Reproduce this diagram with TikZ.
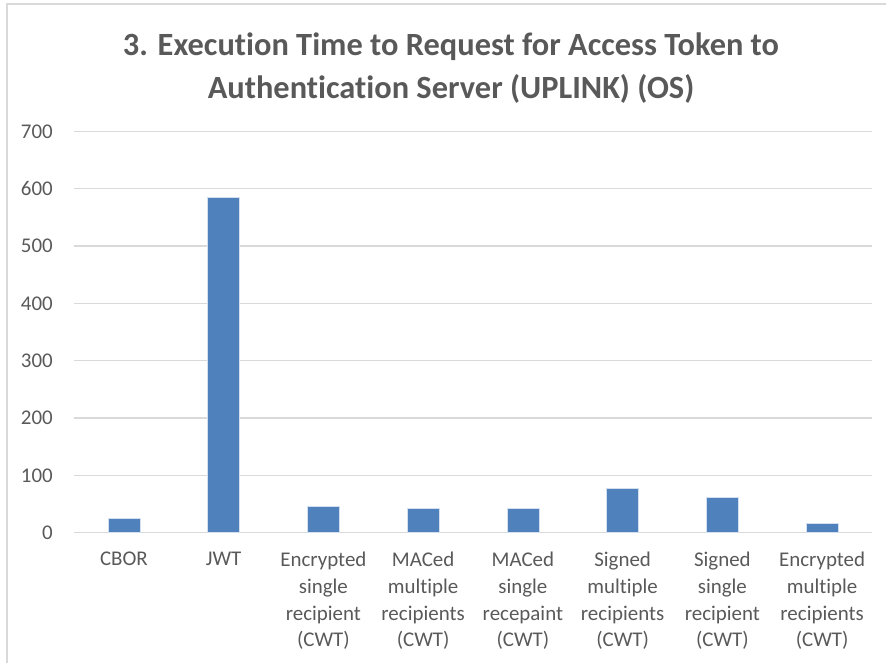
\documentclass[tikz,border=0pt]{standalone}
\usepackage{fontspec}
\setmainfont{Carlito}[Ligatures=NoCommon]
\usetikzlibrary{positioning}
\definecolor{barblue}{HTML}{4F81BD}
\definecolor{gridgray}{HTML}{D9D9D9}
\definecolor{textgray}{HTML}{595959}

\begin{document}
\begin{tikzpicture}[x=0.75pt, y=0.75pt]
    % Define styles
    \tikzset{
        bar/.style={
            fill=barblue,
            draw=white!75!barblue,
            line width=0.4pt
        },
        grid line/.style={draw=gridgray, line width=0.8pt},
        tick label/.style={anchor=east, inner sep=0pt, text=textgray,
            font=\fontsize{15.7}{20}\selectfont},
        cat label/.style={anchor=north, inner sep=0pt, align=center, text=textgray,
            font=\fontsize{15.7}{20}\selectfont},
        title style/.style={anchor=north, inner sep=0pt, align=center, text=textgray,
            font=\bfseries\fontsize{24.3}{32}\selectfont}
    }
    \useasboundingbox (0,0) rectangle (886,663);

    % Chart frame
    \draw[gridgray, line width=1.1pt] (7,0) -- (7,659) -- (886,659);

    % Title
    \node[title style] (title) at (451,630)
        {3. Execution Time to Request for Access Token to\\
         Authentication Server (UPLINK) (OS)};

    % Plot area: origin at value 0, 100 units = 57.3px
    \begin{scope}[shift={(74,130.3)}, y=0.43pt]
        % Gridlines and value labels
        \foreach \v in {0,100,...,700} {
            \draw[grid line] (0,\v) -- (798,\v);
            \node[tick label] (tick\v) at (-21,\v) {\v};
        }

        % Bars
        \fill[bar] (33.9,0) rectangle (65.9,24.5);
        \fill[bar] (133.6,0) rectangle (165.6,585);
        \fill[bar] (233.4,0) rectangle (265.4,46.5);
        \fill[bar] (333.1,0) rectangle (365.1,43);
        \fill[bar] (432.9,0) rectangle (464.9,43);
        \fill[bar] (532.6,0) rectangle (564.6,77);
        \fill[bar] (632.4,0) rectangle (664.4,62);
        \fill[bar] (732.1,0) rectangle (764.1,16);
    \end{scope}

    % Category labels
    \node[cat label] (cbor) at (123.9,111) {CBOR};
    \node[cat label] (jwt) at (223.6,111) {JWT};
    \node[cat label] (encsingle) at (323.4,111) {Encrypted\\single\\recipient\\(CWT)};
    \node[cat label] (macmulti) at (423.1,111) {MACed\\multiple\\recipients\\(CWT)};
    \node[cat label] (macsingle) at (522.9,111) {MACed\\single\\recepaint\\(CWT)};
    \node[cat label] (signmulti) at (622.6,111) {Signed\\multiple\\recipients\\(CWT)};
    \node[cat label] (signsingle) at (722.4,111) {Signed\\single\\recipient\\(CWT)};
    \node[cat label] (encmulti) at (822.1,111) {Encrypted\\multiple\\recipients\\(CWT)};

\end{tikzpicture}
\end{document}
